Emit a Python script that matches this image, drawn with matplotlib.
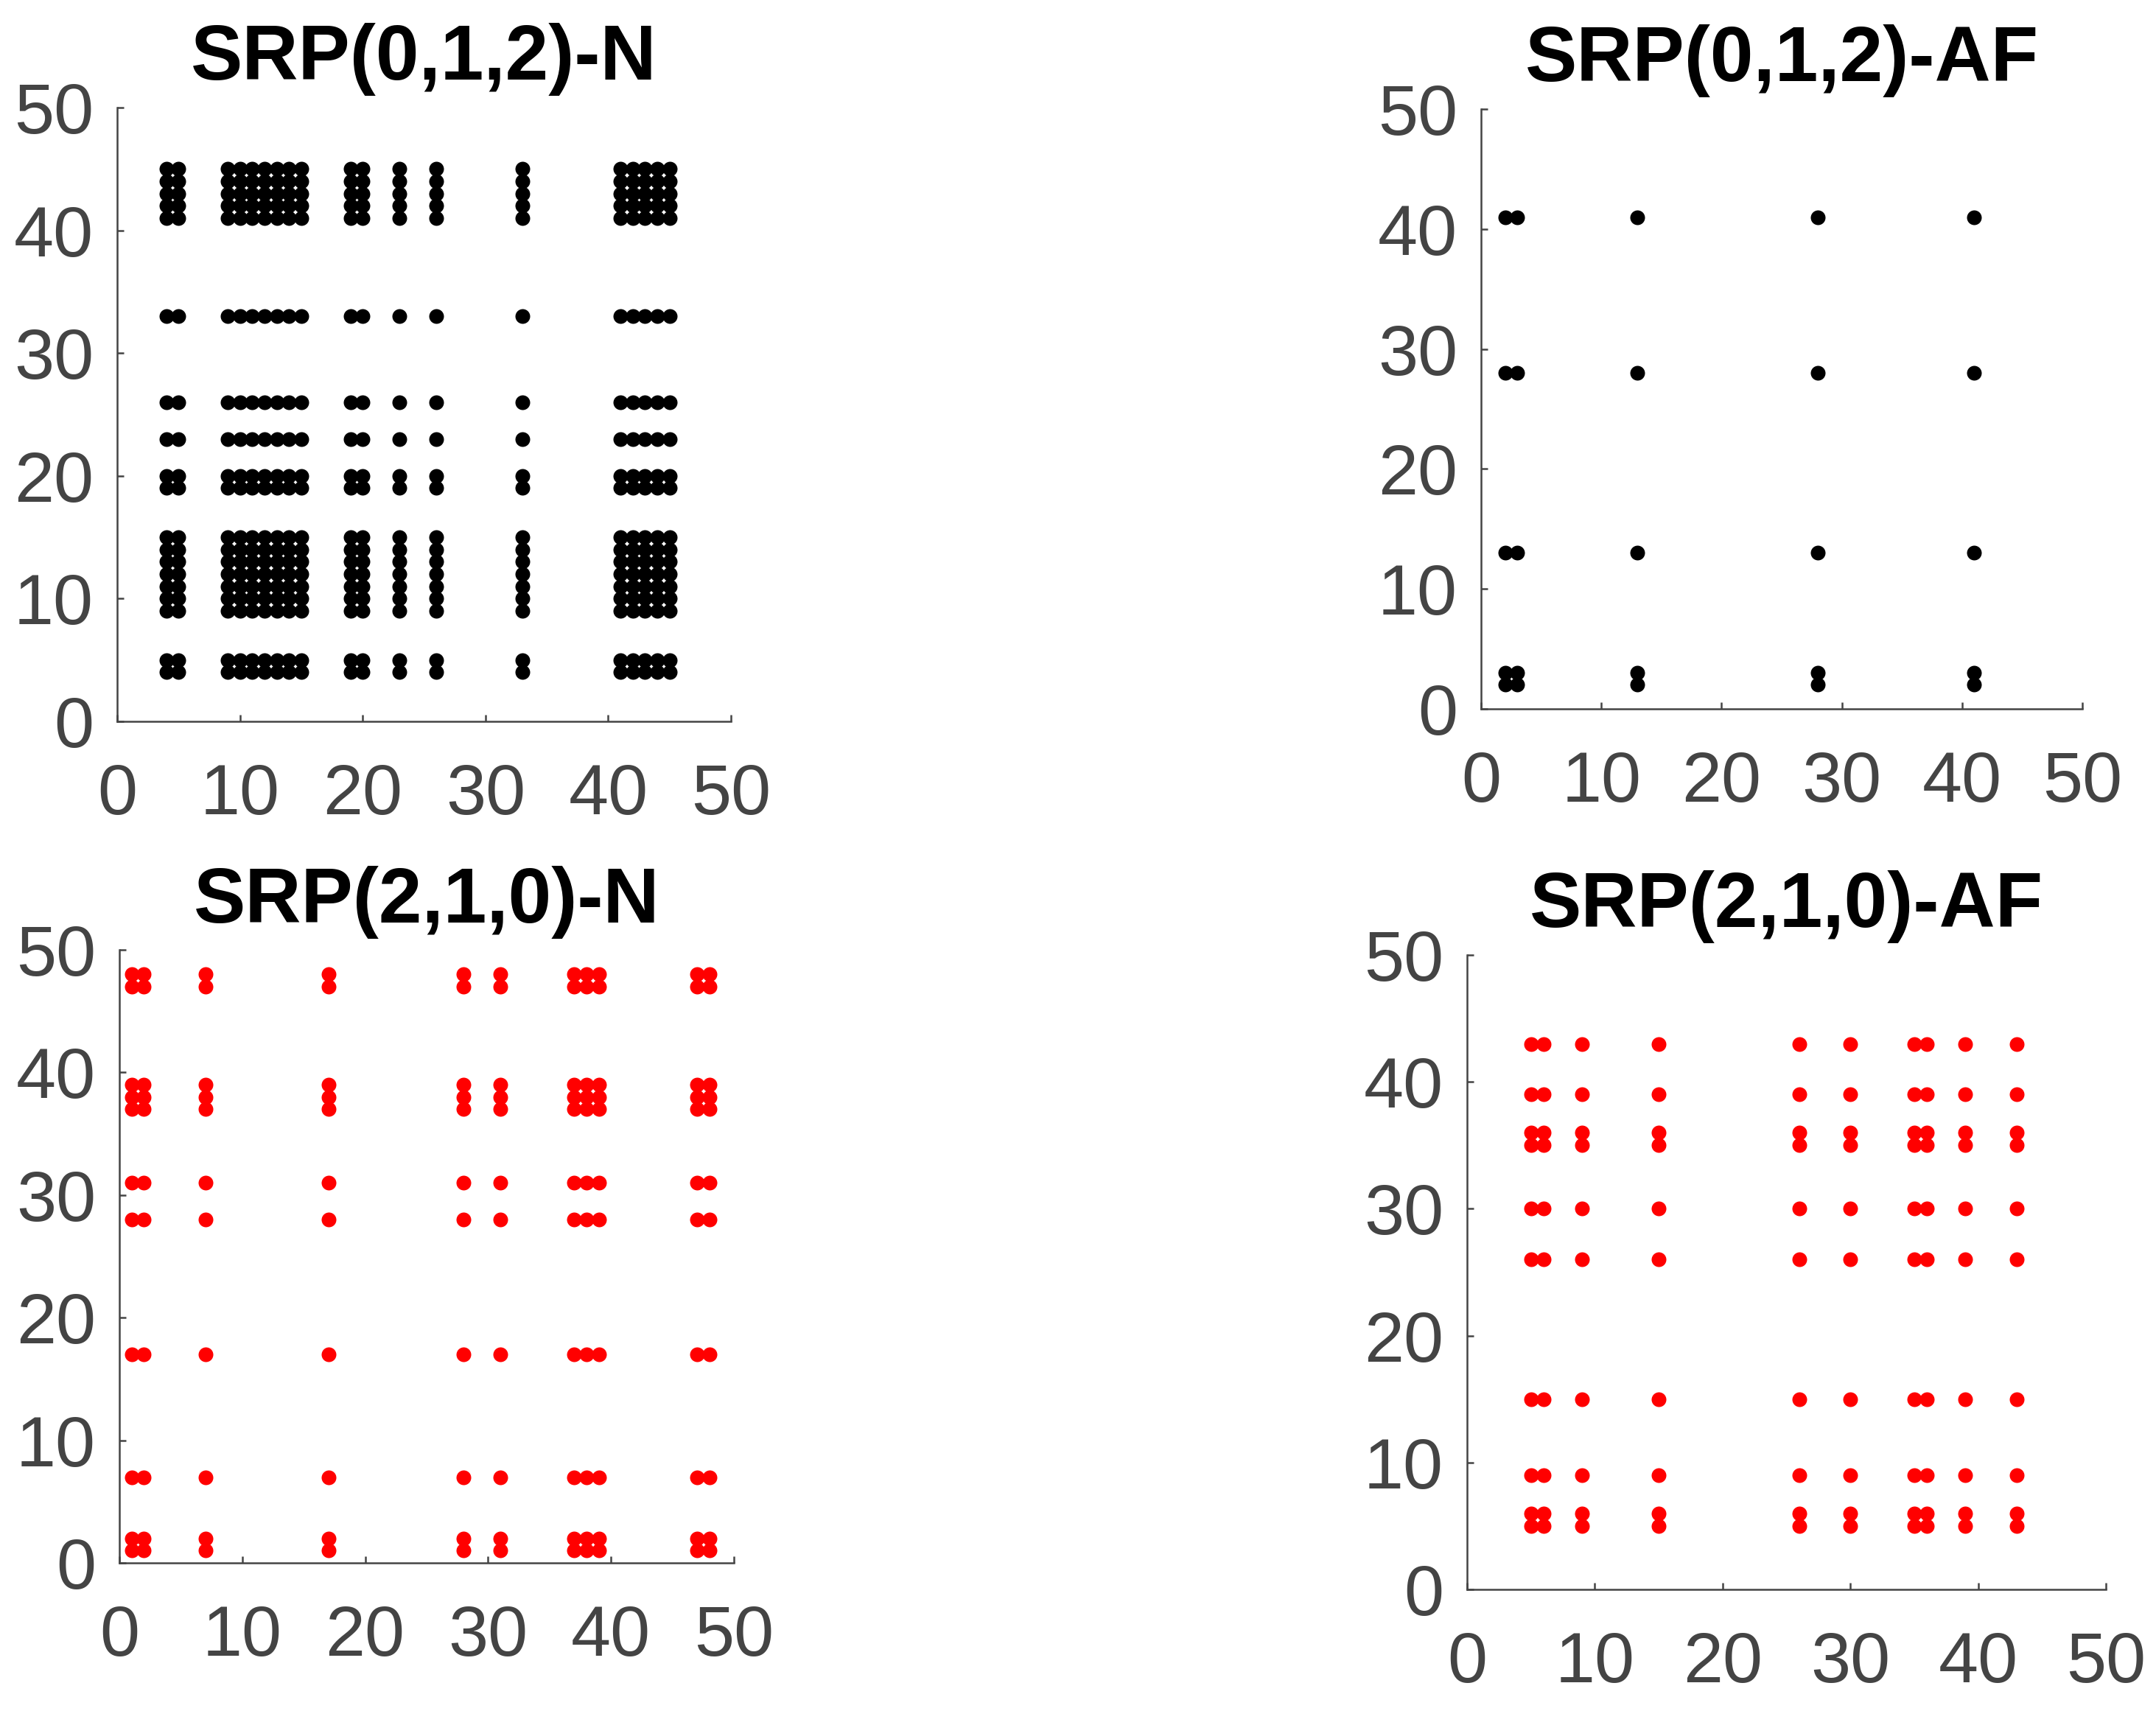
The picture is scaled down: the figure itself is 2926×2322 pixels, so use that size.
import numpy as np
import matplotlib
matplotlib.use("Agg")
import matplotlib.pyplot as plt

plt.rcParams['font.family'] = ['Liberation Sans', 'DejaVu Sans']

# Recurrence index sets (points drawn at every pair i, j of the set)
titles = ["SRP(0,1,2)-N", "SRP(0,1,2)-AF", "SRP(2,1,0)-N", "SRP(2,1,0)-AF"]
set_012_N = [4, 5, 9, 10, 11, 12, 13, 14, 15, 19, 20, 23, 26, 33, 41, 42, 43, 44, 45]
set_012_AF = [2, 3, 13, 28, 41]
set_210_N = [1, 2, 7, 17, 28, 31, 37, 38, 39, 47, 48]
set_210_AF = [5, 6, 9, 15, 26, 30, 35, 36, 39, 43]
colors = ["black", "black", "#ff0000", "#ff0000"]
ticks = [0, 10, 20, 30, 40, 50]

W, H = 2926, 2322
DPI = 200
fig = plt.figure(figsize=(W / DPI, H / DPI), dpi=DPI)

# axes boxes in pixels (x0, x1, y0_top, y1_bottom)
boxes = [(159, 992, 146, 979),
         (2010, 2826, 148, 962),
         (162, 996, 1289, 2121),
         (1991, 2858, 1296, 2157)]
sets = [set_012_N, set_012_AF, set_210_N, set_210_AF]
axc = '#444444'

for (x0, x1, y0, y1), s, t, c in zip(boxes, sets, titles, colors):
    ax = fig.add_axes([x0 / W, 1 - y1 / H, (x1 - x0) / W, (y1 - y0) / H])
    arr = np.array(s)
    X, Y = np.meshgrid(arr, arr)
    ax.plot(X.ravel(), Y.ravel(), 'o', color=c, markersize=7.2, markeredgewidth=0)
    ax.set_xlim(0, 50)
    ax.set_ylim(0, 50)
    ax.set_xticks(ticks)
    ax.set_yticks(ticks)
    for side in ['top', 'right']:
        ax.spines[side].set_visible(False)
    for side in ['left', 'bottom']:
        ax.spines[side].set_color(axc)
        ax.spines[side].set_linewidth(0.9)
    ax.tick_params(axis='both', direction='in', length=3.4, width=0.9,
                   color=axc, labelcolor=axc, labelsize=35)
    ax.tick_params(axis='x', pad=20)
    ax.tick_params(axis='y', pad=11.5)
    ax.set_title(t, fontsize=38, fontweight='bold', pad=13.5)

fig.savefig("out.png", dpi=DPI)
